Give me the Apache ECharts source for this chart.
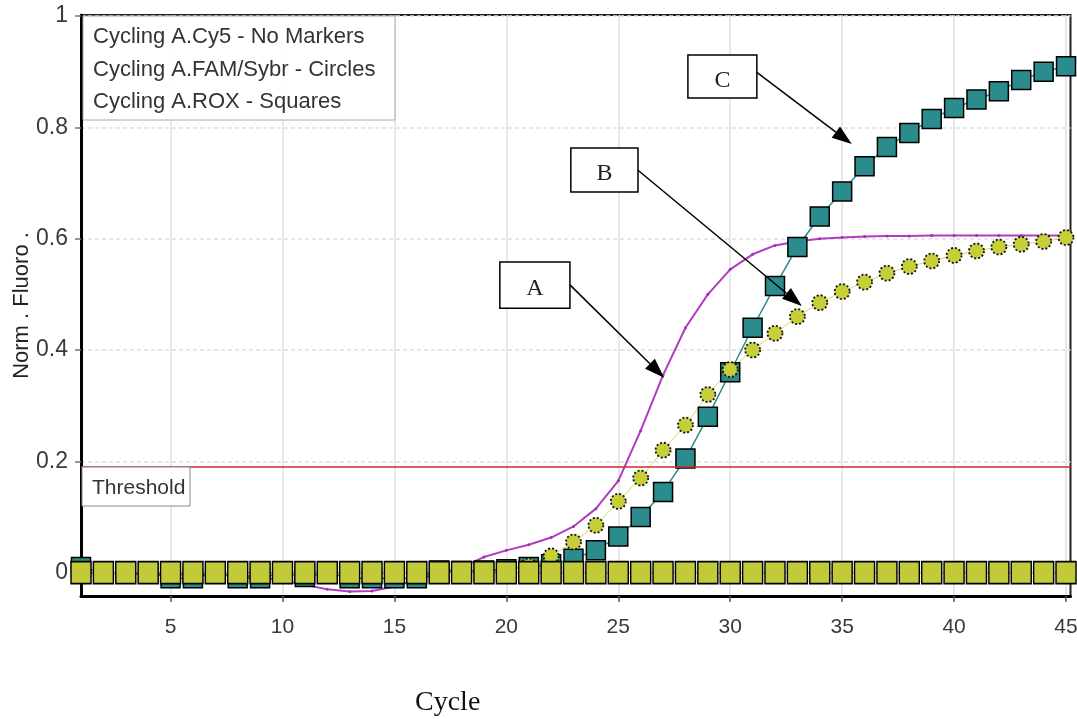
<!DOCTYPE html>
<html><head><meta charset="utf-8">
<script src="https://cdn.jsdelivr.net/npm/echarts@6/dist/echarts.min.js"></script>
<style>html,body{margin:0;padding:0;background:#fff}#c{width:1077px;height:719px}</style>
</head><body><div id="c"></div>
<script>
const cycles = [1,2,3,4,5,6,7,8,9,10,11,12,13,14,15,16,17,18,19,20,21,22,23,24,25,26,27,28,29,30,31,32,33,34,35,36,37,38,39,40,41,42,43,44,45];
const cy5 = [0.0,0.0,-0.002,-0.002,-0.003,-0.003,-0.004,-0.005,-0.008,-0.014,-0.022,-0.030,-0.034,-0.033,-0.025,-0.012,-0.002,0.010,0.028,0.040,0.050,0.063,0.083,0.115,0.165,0.255,0.355,0.440,0.500,0.545,0.572,0.588,0.595,0.600,0.602,0.604,0.605,0.605,0.606,0.606,0.606,0.606,0.606,0.606,0.606];
const famSybr = [0,0,0,0,0,0,0,0,0,0,0,0,0,0,0,0,0,0,0,0.004,0.012,0.030,0.055,0.085,0.128,0.170,0.220,0.265,0.320,0.365,0.400,0.430,0.460,0.485,0.505,0.522,0.538,0.550,0.560,0.570,0.578,0.585,0.590,0.595,0.602];
const rox = [0.010,0,0,0,-0.010,-0.010,0,-0.010,-0.010,0,-0.008,0,-0.010,-0.010,-0.010,-0.010,0.004,0.003,0.004,0.006,0.010,0.015,0.025,0.040,0.065,0.100,0.145,0.205,0.280,0.360,0.440,0.515,0.585,0.640,0.685,0.730,0.765,0.790,0.815,0.835,0.850,0.865,0.885,0.900,0.910];
const baseline = [0,0,0,0,0,0,0,0,0,0,0,0,0,0,0,0,0,0,0,0,0,0,0,0,0,0,0,0,0,0,0,0,0,0,0,0,0,0,0,0,0,0,0,0,0];
const thresholdValue = 0.192;
const xTickValues = [5,10,15,20,25,30,35,40,45];
const yTickValues = [0,0.2,0.4,0.6,0.8,1];
const legendLabels = ['Cycling A.Cy5 - No Markers','Cycling A.FAM/Sybr - Circles','Cycling A.ROX - Squares'];
const thresholdLabel = 'Threshold';
const xTitle = 'Cycle';
const yTitle = 'Norm . Fluoro .';
const annotations = [
  {label:'A', box:[19.71,0.558,22.84,0.475], from:[22.84,0.517], to:[27.05,0.350]},
  {label:'B', box:[22.88,0.763,25.88,0.684], from:[25.88,0.723], to:[33.20,0.479]},
  {label:'C', box:[28.11,0.930,31.19,0.853], from:[31.19,0.899], to:[35.43,0.770]}
];

function pairs(arr){ return cycles.map((c,i)=>[c, arr[i]]); }

const chart = echarts.init(document.getElementById('c'), null, {renderer:'canvas'});
const sans = '"Liberation Sans", Arial, sans-serif';
chart.setOption({
  animation:false,
  backgroundColor:'#fff',
  grid:{left:81, right:6.5, top:15, bottom:123, containLabel:false, outerBoundsMode:'none', show:true, borderColor:'#222', borderWidth:2, backgroundColor:'transparent'},
  title:{text:xTitle, left:410, top:684, textStyle:{fontFamily:'"Liberation Serif"', fontSize:28, fontWeight:'normal', color:'#111'}},
  xAxis:{type:'value', min:1, max:45.2,
    axisLine:{show:true, onZero:false, lineStyle:{color:'#000', width:3}},
    axisTick:{show:true, customValues:xTickValues, length:6, lineStyle:{color:'#555', width:1.5}},
    axisLabel:{customValues:xTickValues, margin:21, fontFamily:sans, fontSize:21, color:'#3a3a3a'},
    splitLine:{show:true, lineStyle:{color:'#e0e0e0', width:1.5}}},
  yAxis:{type:'value', min:-0.042, max:1.002,
    name:yTitle, nameLocation:'middle', nameRotate:90, nameGap:48, nameMoveOverlap:false,
    nameTextStyle:{fontFamily:sans, fontSize:22, color:'#222'},
    axisLine:{show:true, onZero:false, lineStyle:{color:'#000', width:3}},
    axisTick:{show:true, customValues:yTickValues, length:6, lineStyle:{color:'#777', width:1.5}},
    axisLabel:{customValues:yTickValues, margin:13, fontFamily:sans, fontSize:23, color:'#3a3a3a'},
    splitLine:{show:true, lineStyle:{color:'#e0e0e0', width:1.5, type:[4,3]}}},
  series:[
    {name:legendLabels[0], type:'line', data:pairs(cy5), symbol:'circle', symbolSize:3, showSymbol:true, showAllSymbol:true,
     lineStyle:{color:'#b03cc0', width:2}, itemStyle:{color:'#a030b8'},
     markLine:{silent:true, symbol:'none', label:{show:false}, lineStyle:{color:'#d02828', width:1.5, type:'solid'}, data:[{yAxis:thresholdValue}]}},
    {name:legendLabels[2], type:'line', data:pairs(rox), symbol:'rect', symbolSize:19, showAllSymbol:true,
     lineStyle:{color:'#2a8c8c', width:1.5}, itemStyle:{color:'#2a8c8c', borderColor:'#000', borderWidth:1.5}},
    {name:legendLabels[1], type:'line', data:pairs(famSybr), symbol:'circle', symbolSize:15, showAllSymbol:true,
     lineStyle:{color:'#d8d860', width:1}, itemStyle:{color:'#c6cf3a', borderColor:'#111', borderWidth:1.8, borderType:[2,2]}},
    {name:'NTC', type:'line', data:pairs(baseline), symbol:'rect', symbolSize:[20,22], showAllSymbol:true,
     lineStyle:{color:'#9bbb40', width:1}, itemStyle:{color:'#c3ca3a', borderColor:'#000', borderWidth:1.5}}
  ]
});

function px(p){ return chart.convertToPixel({gridIndex:0}, p); }
const g = [];
g.push({type:'rect', z:100, shape:{x:83, y:16, width:312, height:104}, style:{fill:'rgba(255,255,255,0.92)', stroke:'#aaa', lineWidth:1}});
legendLabels.forEach((t,i)=>{
  g.push({type:'text', z:101, x:93, y:37+i*32.5, style:{text:t, font:'22px '+sans, fill:'#333', textVerticalAlign:'middle'}});
});
g.push({type:'rect', z:100, shape:{x:82, y:467, width:108, height:39}, style:{fill:'#fff', stroke:'#888', lineWidth:1}});
g.push({type:'text', z:101, x:92, y:488, style:{text:thresholdLabel, font:'21px '+sans, fill:'#333', textVerticalAlign:'middle'}});
annotations.forEach(a=>{
  const p1 = px([a.box[0], a.box[1]]), p2 = px([a.box[2], a.box[3]]);
  g.push({type:'rect', z:100, shape:{x:p1[0], y:p1[1], width:p2[0]-p1[0], height:p2[1]-p1[1]}, style:{fill:'#fff', stroke:'#000', lineWidth:1.5}});
  g.push({type:'text', z:101, x:(p1[0]+p2[0])/2, y:(p1[1]+p2[1])/2+4, style:{text:a.label, font:'24px "Liberation Serif"', fill:'#222', textAlign:'center', textVerticalAlign:'middle'}});
  const s = px(a.from), e = px(a.to);
  const ang = Math.atan2(e[1]-s[1], e[0]-s[0]);
  const hl = 20, hw = 7;
  const bx = e[0]-hl*Math.cos(ang), by = e[1]-hl*Math.sin(ang);
  g.push({type:'line', z:100, shape:{x1:s[0], y1:s[1], x2:bx, y2:by}, style:{stroke:'#000', lineWidth:1.5}});
  g.push({type:'polygon', z:100, shape:{points:[[e[0],e[1]],[bx+hw*Math.sin(ang), by-hw*Math.cos(ang)],[bx-hw*Math.sin(ang), by+hw*Math.cos(ang)]]}, style:{fill:'#000'}});
});
chart.setOption({graphic:g});
</script></body></html>
